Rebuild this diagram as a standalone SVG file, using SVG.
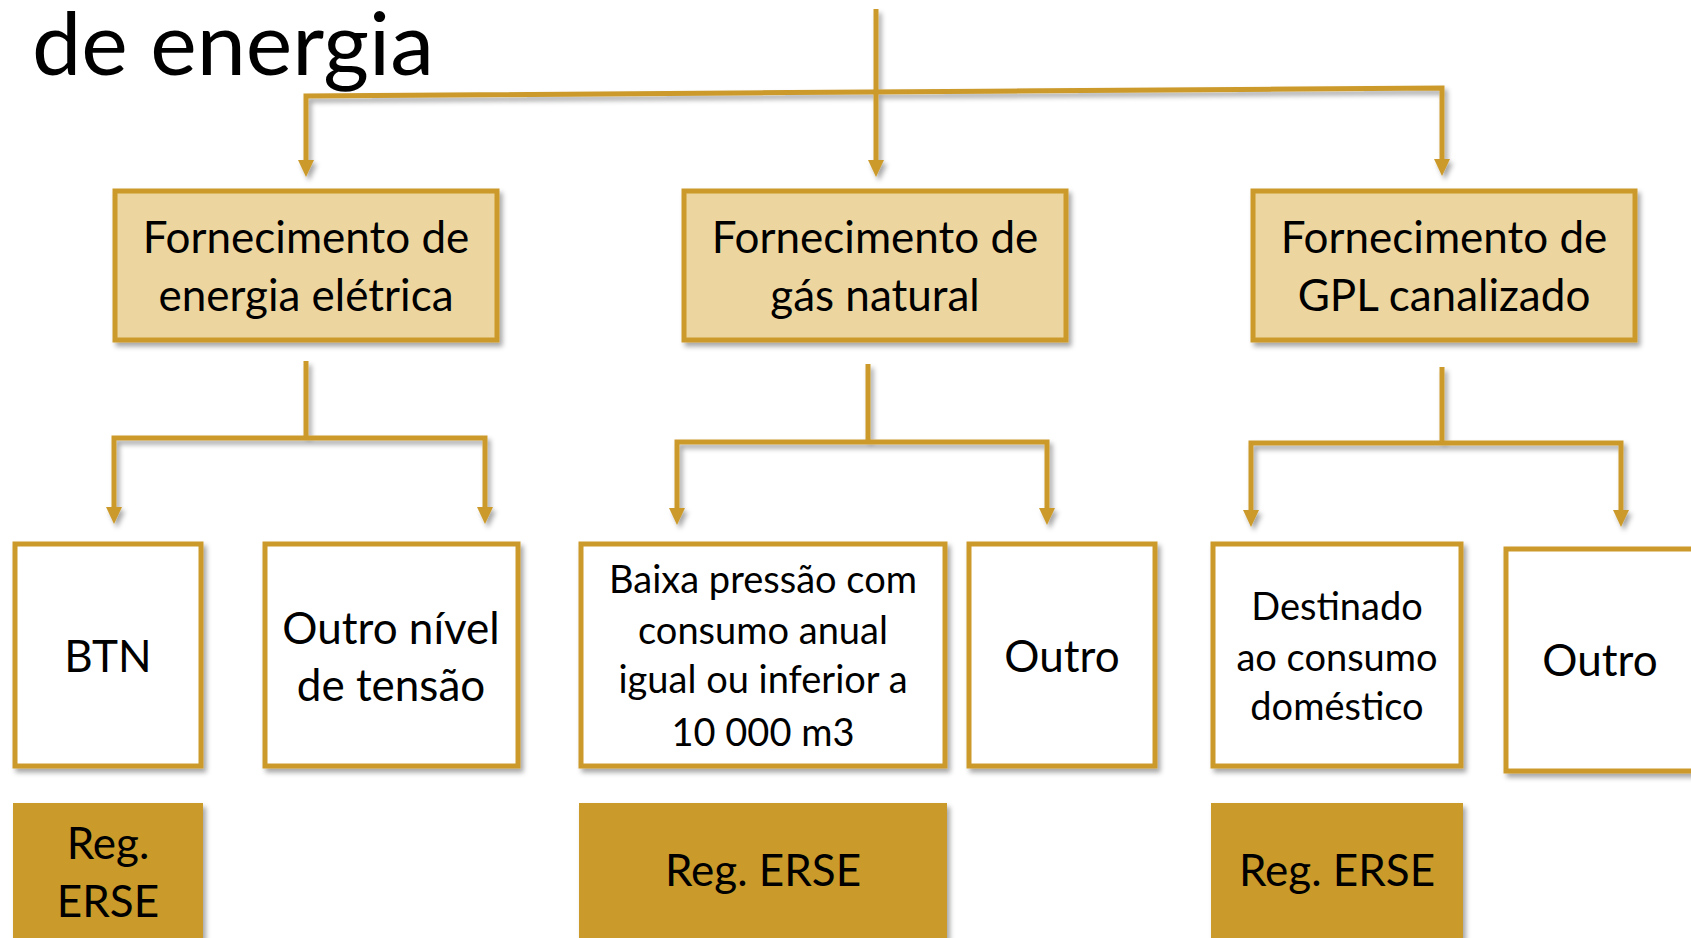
<svg xmlns="http://www.w3.org/2000/svg" width="1691" height="938" viewBox="0 0 1691 938">
<defs>
<filter id="sh" x="-10%" y="-10%" width="130%" height="130%">
<feDropShadow dx="3" dy="4" stdDeviation="2.5" flood-color="#000" flood-opacity="0.35"/>
</filter>
<marker id="ah" viewBox="0 0 17 16" refX="1" refY="8" markerWidth="17" markerHeight="16" markerUnits="userSpaceOnUse" orient="auto-start-reverse">
<path d="M0,0 L17,8 L0,16 z" fill="#CB9A2B"/>
</marker>
<style>
text{font-family:"Lato","Open Sans",sans-serif;fill:#000;text-anchor:middle}
.t46{font-size:44px}
.t40{font-size:38px}
.title{font-size:88px;text-anchor:start}
.l1{fill:#EDD59F;stroke:#CB9A2B;stroke-width:5}
.l2{fill:#fff;stroke:#CB9A2B;stroke-width:5}
.reg{fill:#CA9A29}
.con path{fill:none;stroke:#CB9A2B;stroke-width:5;stroke-linejoin:miter}
</style>
</defs>
<rect width="1691" height="938" fill="#fff"/>
<text class="title" x="32" y="75">de energia</text>

<g class="con" filter="url(#sh)">
<path d="M876,9 V161" marker-end="url(#ah)"/>
<path d="M306,161 V96 L1442,88 V160" marker-start="url(#ah)" marker-end="url(#ah)"/>
<path d="M306,361 V438"/>
<path d="M114,508 V438 H485 V508" marker-start="url(#ah)" marker-end="url(#ah)"/>
<path d="M868,364 V442"/>
<path d="M677,509 V442 H1047 V509" marker-start="url(#ah)" marker-end="url(#ah)"/>
<path d="M1442,367 V443"/>
<path d="M1251,511 V443 H1621 V511" marker-start="url(#ah)" marker-end="url(#ah)"/>
</g>

<g id="n-eletrica">
<rect class="l1" x="115" y="191" width="382" height="149" filter="url(#sh)"/>
<text class="t46" x="306" y="253">Fornecimento de</text>
<text class="t46" x="306" y="311">energia elétrica</text>
</g>
<g id="n-gas">
<rect class="l1" x="684" y="191" width="382" height="149" filter="url(#sh)"/>
<text class="t46" x="875" y="253">Fornecimento de</text>
<text class="t46" x="875" y="311">gás natural</text>
</g>
<g id="n-gpl">
<rect class="l1" x="1253" y="191" width="382" height="149" filter="url(#sh)"/>
<text class="t46" x="1444" y="253">Fornecimento de</text>
<text class="t46" x="1444" y="311">GPL canalizado</text>
</g>

<g id="n-btn">
<rect class="l2" x="15" y="544" width="186" height="222" filter="url(#sh)"/>
<text class="t46" x="108" y="672">BTN</text>
</g>
<g id="n-outro-nivel">
<rect class="l2" x="265" y="544" width="253" height="222" filter="url(#sh)"/>
<text class="t46" x="391" y="644">Outro nível</text>
<text class="t46" x="391" y="701">de tensão</text>
</g>
<g id="n-baixa">
<rect class="l2" x="581" y="544" width="364" height="222" filter="url(#sh)"/>
<text class="t40" x="763" y="593">Baixa pressão com</text>
<text class="t40" x="763" y="644">consumo anual</text>
<text class="t40" x="763" y="693">igual ou inferior a</text>
<text class="t40" x="763" y="746">10 000 m3</text>
</g>
<g id="n-outro-gas">
<rect class="l2" x="969" y="544" width="186" height="222" filter="url(#sh)"/>
<text class="t46" x="1062" y="672">Outro</text>
</g>
<g id="n-destinado">
<rect class="l2" x="1213" y="544" width="248" height="222" filter="url(#sh)"/>
<text class="t40" x="1337" y="620">Destinado</text>
<text class="t40" x="1337" y="671">ao consumo</text>
<text class="t40" x="1337" y="720">doméstico</text>
</g>
<g id="n-outro-gpl">
<rect class="l2" x="1506" y="549" width="190" height="222" filter="url(#sh)"/>
<text class="t46" x="1600" y="676">Outro</text>
</g>

<g id="r-btn">
<rect class="reg" x="13" y="803" width="190" height="140" filter="url(#sh)"/>
<text class="t46" x="108" y="859">Reg.</text>
<text class="t46" x="108" y="917">ERSE</text>
</g>
<g id="r-gas">
<rect class="reg" x="579" y="803" width="368" height="140" filter="url(#sh)"/>
<text class="t46" x="763" y="886">Reg. ERSE</text>
</g>
<g id="r-gpl">
<rect class="reg" x="1211" y="803" width="252" height="140" filter="url(#sh)"/>
<text class="t46" x="1337" y="886">Reg. ERSE</text>
</g>
</svg>
